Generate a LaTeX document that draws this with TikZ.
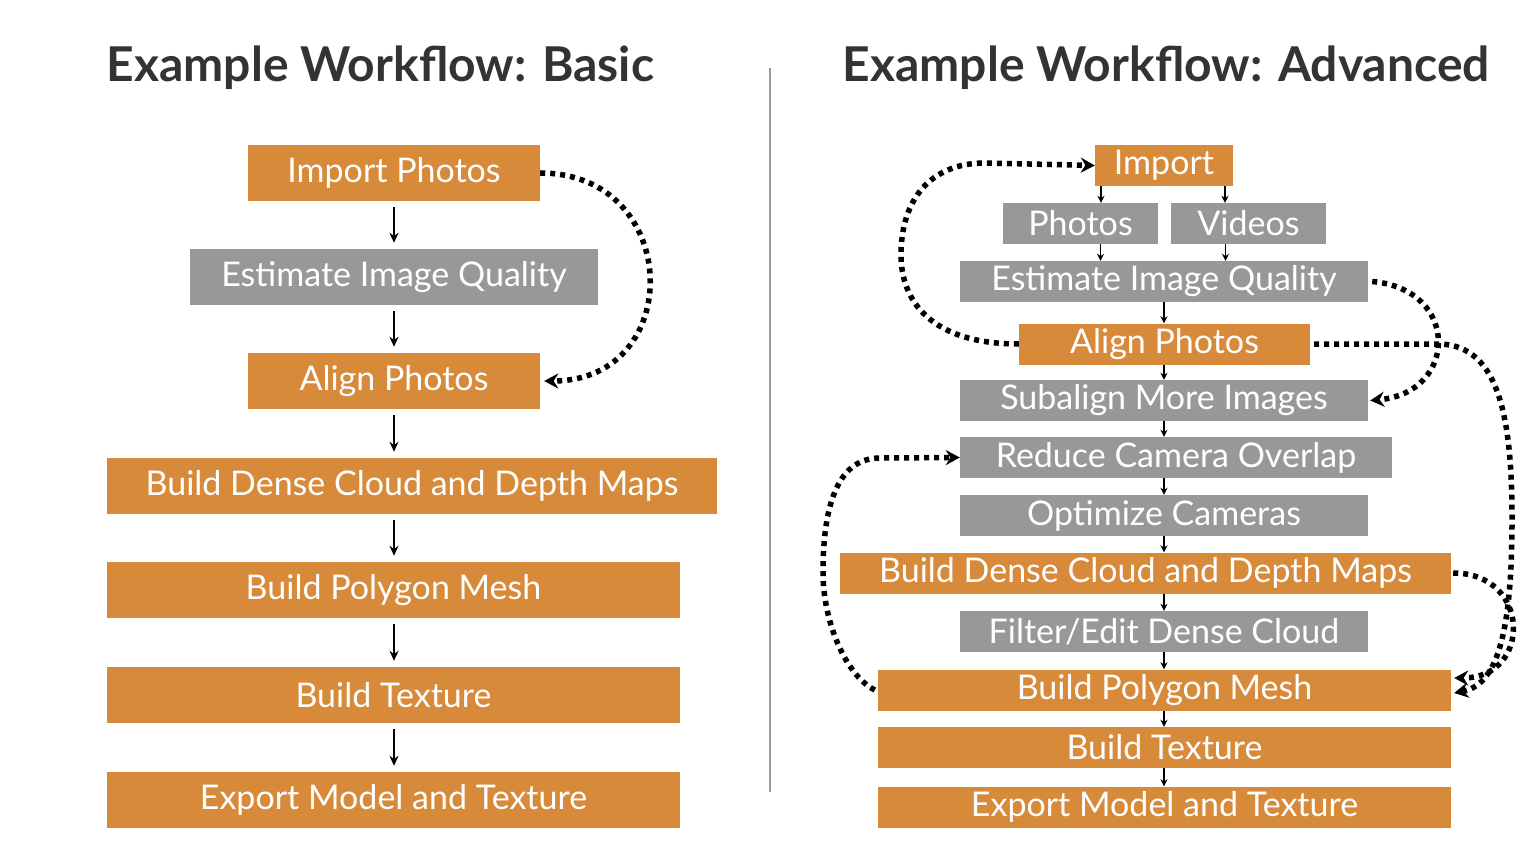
\documentclass[tikz,border=0pt]{standalone}
\usepackage{fontspec}
\setmainfont{Lato}
\usepackage{xcolor}
\usetikzlibrary{arrows.meta, calc}
\definecolor{boxorange}{RGB}{214,138,58}
\definecolor{boxgray}{RGB}{152,152,152}
\definecolor{titlegray}{RGB}{51,51,51}
\tikzset{
    x=1pt, y=-1pt, % one unit is one pixel of the reference
    box/.style={minimum height=56, inner sep=0pt, text=white, font=\fontsize{34}{34}\selectfont}, % boxes on the left
    sbox/.style={box, minimum height=41}, % slimmer boxes on the right
    stage/.style={fill=boxorange}, % orange steps
    substage/.style={fill=boxgray}, % gray optional steps
    title/.style={anchor=west, text=titlegray, font=\fontsize{48}{48}\selectfont\bfseries},
    loopback/.style={line width=5.5pt, dash pattern=on 5pt off 5pt, -{Stealth[length=14pt,width=15pt]}},
}
\tikzstyle{arrow} = [line width=1.6pt, -{Stealth[length=10pt,width=9pt]}, shorten <=6pt, shorten >=6pt]
\tikzstyle{sarrow} = [line width=1.4pt, -{Stealth[length=7pt,width=7pt]}]

\begin{document}
\begin{tikzpicture}
    \useasboundingbox[fill=white] (0,0) rectangle (1533,842);

    % titles and divider
    \node[title] (t1) at (103,68) {Example Workflow: Basic};
    \node[title] (t2) at (839,68) {Example Workflow: Advanced};
    \draw[gray!80, line width=1.8pt] (770,68) -- (770,792);

    % basic workflow
    \node[box, stage, minimum width=292] (imp1) at (394,173) {Import Photos};
    \node[box, substage, minimum width=408] (est1) at (394,277) {Estimate Image Quality};
    \node[box, stage, minimum width=292] (ali1) at (394,381) {Align Photos};
    \node[box, stage, minimum width=610] (den1) at (412,486) {Build Dense Cloud and Depth Maps};
    \node[box, stage, minimum width=573] (mes1) at (393.5,590) {Build Polygon Mesh};
    \node[box, stage, minimum width=573] (tex1) at (393.5,695) {Build Texture};
    \node[box, stage, minimum width=573] (exp1) at (393.5,800) {Export Model and Texture};

    \foreach \a/\b in {imp1/est1, est1/ali1, ali1/den1, den1/mes1, mes1/tex1, tex1/exp1}
        \draw[arrow] (\a.south -| imp1) -- (\b.north -| imp1);

    \draw[loopback] (imp1.east) to[out=0, in=0, looseness=1.75] ([xshift=4pt]ali1.east);

    % advanced workflow
    \node[sbox, stage, minimum width=138] (imp2) at (1164,165.5) {Import};
    \node[sbox, substage, minimum width=155] (pho2) at (1080.5,223.5) {Photos};
    \node[sbox, substage, minimum width=155] (vid2) at (1248.5,223.5) {Videos};
    \node[sbox, substage, minimum width=408] (est2) at (1164,281.5) {Estimate Image Quality};
    \node[sbox, stage, minimum width=291] (ali2) at (1164.5,344) {Align Photos};
    \node[sbox, substage, minimum width=408] (sub2) at (1164,400.5) {Subalign More Images};
    \node[sbox, substage, minimum width=432] (red2) at (1176,457.5) {Reduce Camera Overlap};
    \node[sbox, substage, minimum width=408] (opt2) at (1164,515.5) {Optimize Cameras};
    \node[sbox, stage, minimum width=611] (den2) at (1145.5,573) {Build Dense Cloud and Depth Maps};
    \node[sbox, substage, minimum width=408] (fil2) at (1164,631.5) {Filter/Edit Dense Cloud};
    \node[sbox, stage, minimum width=573] (mes2) at (1164.5,690) {Build Polygon Mesh};
    \node[sbox, stage, minimum width=573] (tex2) at (1164.5,747.5) {Build Texture};
    \node[sbox, stage, minimum width=573] (exp2) at (1164.5,807) {Export Model and Texture};

    \draw[sarrow] ([xshift=-63pt]imp2.south) -- ([xshift=-63pt]imp2.south |- pho2.north);
    \draw[sarrow] ([xshift=61pt]imp2.south) -- ([xshift=61pt]imp2.south |- vid2.north);
    \draw[sarrow] ([xshift=20pt]pho2.south) -- ([xshift=20pt]pho2.south |- est2.north);
    \draw[sarrow] ([xshift=-23pt]vid2.south) -- ([xshift=-23pt]vid2.south |- est2.north);
    \foreach \a/\b in {est2/ali2, ali2/sub2, sub2/red2, red2/opt2, opt2/den2, den2/fil2, fil2/mes2, mes2/tex2, tex2/exp2}
        \draw[sarrow] (\a.south -| est2) -- (\b.north -| est2);

    % loops back and forth
    \draw[loopback] (ali2.west) .. controls (930,344) and (901,300) .. (901,255)
        .. controls (901,200) and (930,163) .. (985,163) -- (imp2.west);
    \draw[loopback] ([xshift=4pt]est2.east) to[out=-5, in=5, looseness=1.9] ([xshift=2pt]sub2.east);
    \draw[loopback] ([xshift=4pt]ali2.east) -- (1440,344) .. controls (1500,346) and (1512,420) .. (1512,520)
        .. controls (1512,640) and (1495,685) .. ([xshift=3pt, yshift=-3pt]mes2.east);
    \draw[loopback] ([xshift=2pt]den2.east) to[out=0, in=0, looseness=1.9] ([xshift=3pt, yshift=12pt]mes2.east);
    \draw[loopback] ([xshift=-3pt]mes2.west) .. controls (845,675) and (823,620) .. (823,573)
        .. controls (823,500) and (840,458) .. (880,458) -- (red2.west);
\end{tikzpicture}
\end{document}
